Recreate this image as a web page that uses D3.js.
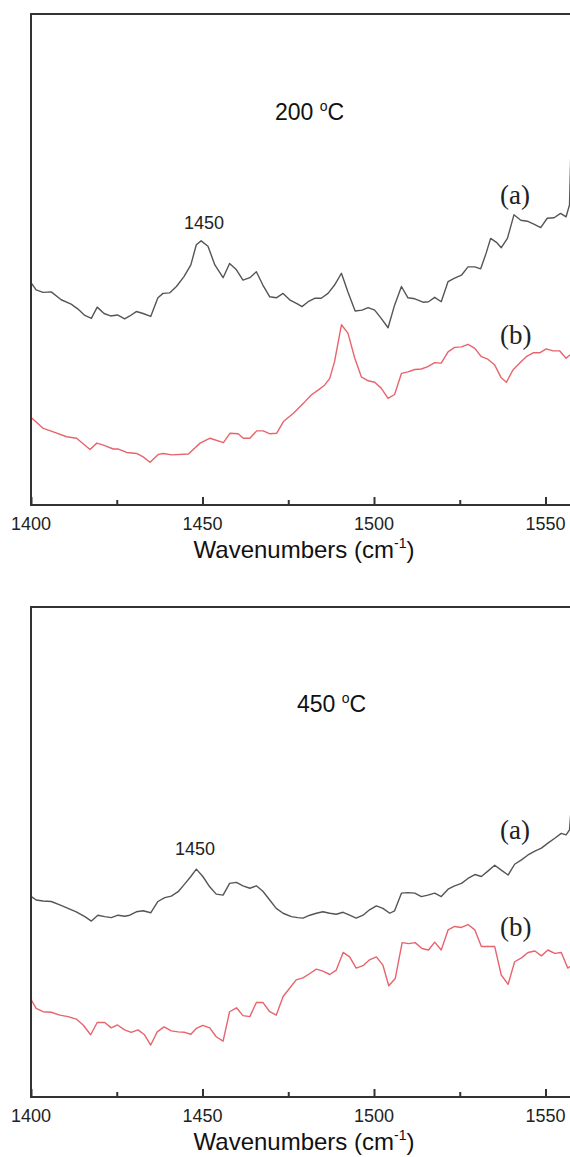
<!doctype html>
<html>
<head>
<meta charset="utf-8" />
<title>IR spectra 200 / 450 C</title>
<script src="https://cdn.jsdelivr.net/npm/d3@7/dist/d3.min.js"></script>
<style>
	html, body { margin: 0; padding: 0; background: #fff; overflow: hidden; }
	svg { display: block; }
	.tick-label { font-family: "Liberation Sans", Arial, sans-serif; font-size: 18px; fill: #222; }
	.axis-title { font-family: "Liberation Sans", Arial, sans-serif; font-size: 24px; fill: #111; }
	.temp { font-family: "Liberation Sans", Arial, sans-serif; font-size: 23px; fill: #111; }
	.peak { font-family: "Liberation Sans", Arial, sans-serif; font-size: 18px; fill: #222; }
	.curve-id { font-family: "Liberation Serif", "Times New Roman", serif; font-size: 27px; fill: #222; }
</style>
</head>
<body>
<div id="app"></div>
<script>
// values, absorbance in arbitrary units (0..100 of the panel height)
const wave200a = [1400.1, 1401.5, 1403.5, 1405.9, 1408.8, 1411.7, 1413.7, 1415.7, 1417.6, 1419.3, 1421.3, 1423.2, 1425.2, 1427.3, 1428.8, 1430.7, 1432.7, 1434.9, 1437.0, 1438.5, 1440.4, 1442.4, 1444.6, 1446.6, 1448.2, 1449.6, 1451.6, 1453.6, 1456.0, 1457.9, 1459.9, 1461.8, 1463.8, 1465.7, 1467.6, 1469.6, 1471.5, 1473.5, 1475.4, 1477.8, 1479.0, 1480.8, 1482.7, 1484.6, 1486.6, 1488.5, 1490.5, 1492.4, 1494.5, 1496.5, 1498.3, 1500.2, 1502.1, 1504.1, 1506.0, 1508.0, 1509.9, 1511.9, 1514.3, 1515.9, 1517.7, 1519.6, 1521.6, 1523.5, 1525.5, 1527.4, 1529.4, 1531.1, 1532.7, 1534.0, 1535.7, 1537.1, 1538.9, 1540.8, 1542.8, 1544.7, 1546.6, 1548.6, 1550.5, 1552.5, 1554.4, 1556.0, 1557.0, 1557.4, 1558.5];
const abs200a = [45.2, 43.8, 43.3, 43.4, 41.8, 40.9, 39.9, 38.6, 38.0, 40.3, 39.0, 38.5, 38.7, 37.9, 38.5, 39.4, 39.0, 38.4, 42.2, 43.1, 43.2, 44.5, 46.5, 48.9, 53.0, 53.8, 52.7, 48.9, 46.3, 49.2, 47.9, 45.8, 46.3, 47.5, 44.8, 42.4, 42.2, 43.1, 41.8, 40.9, 40.4, 41.4, 42.1, 42.1, 43.1, 44.8, 47.2, 43.4, 39.5, 39.7, 40.2, 39.7, 38.0, 36.1, 40.7, 44.5, 42.2, 42.0, 41.3, 41.4, 42.3, 41.4, 45.5, 46.2, 46.8, 48.5, 48.5, 48.1, 51.3, 54.3, 53.5, 52.4, 54.3, 59.1, 58.0, 57.8, 57.2, 56.5, 58.4, 58.5, 59.4, 58.7, 61.1, 72.0, 85.0];

const wave200b = [1400.2, 1403.6, 1406.5, 1410.4, 1413.3, 1417.2, 1419.2, 1421.1, 1424.0, 1425.5, 1427.9, 1430.8, 1432.7, 1434.7, 1437.1, 1438.6, 1441.0, 1445.9, 1449.3, 1452.2, 1456.1, 1458.0, 1460.4, 1461.9, 1463.8, 1465.8, 1467.7, 1469.7, 1471.6, 1473.6, 1476.5, 1479.8, 1481.7, 1483.7, 1485.6, 1487.1, 1488.5, 1490.5, 1492.4, 1494.4, 1496.3, 1498.3, 1500.2, 1502.1, 1504.1, 1506.0, 1508.0, 1509.9, 1511.9, 1513.8, 1515.7, 1517.7, 1519.6, 1521.6, 1523.5, 1525.5, 1527.4, 1529.4, 1531.3, 1533.2, 1535.2, 1537.1, 1538.6, 1540.5, 1542.5, 1544.4, 1546.4, 1548.3, 1550.2, 1552.2, 1554.1, 1556.0, 1557.0, 1559.0];
const abs200b = [17.7, 15.6, 14.9, 13.9, 13.6, 11.3, 12.6, 12.2, 11.4, 11.4, 10.7, 10.5, 9.8, 8.7, 10.3, 10.5, 10.2, 10.4, 12.6, 13.6, 12.7, 14.6, 14.5, 13.6, 13.6, 15.1, 15.1, 14.5, 14.6, 17.0, 18.7, 21.0, 22.4, 23.4, 24.4, 25.8, 29.2, 36.7, 35.0, 29.9, 26.1, 25.3, 25.0, 23.8, 21.7, 22.5, 26.8, 27.1, 27.6, 27.7, 28.2, 29.0, 28.9, 31.2, 32.1, 32.2, 32.7, 31.9, 30.2, 29.7, 28.5, 25.9, 25.0, 27.5, 28.9, 30.2, 31.0, 31.0, 31.8, 31.4, 31.4, 29.9, 30.5, 31.0];

const wave450a = [1400.1, 1401.5, 1403.5, 1405.9, 1408.4, 1410.8, 1413.2, 1415.7, 1417.6, 1419.5, 1421.5, 1423.4, 1425.4, 1427.3, 1428.8, 1430.7, 1432.7, 1434.9, 1437.0, 1439.0, 1440.9, 1442.9, 1444.6, 1446.6, 1448.2, 1450.1, 1452.1, 1454.0, 1456.0, 1457.9, 1459.9, 1461.8, 1463.8, 1465.7, 1467.6, 1469.6, 1471.5, 1473.5, 1475.9, 1477.8, 1479.3, 1481.3, 1483.2, 1485.1, 1487.1, 1489.0, 1491.0, 1492.9, 1494.8, 1496.8, 1498.7, 1500.7, 1502.6, 1504.6, 1506.0, 1508.0, 1509.9, 1511.9, 1513.8, 1515.7, 1517.7, 1519.6, 1521.6, 1523.5, 1525.5, 1527.4, 1529.4, 1531.3, 1533.2, 1535.2, 1537.1, 1539.1, 1541.0, 1543.0, 1544.9, 1546.9, 1548.8, 1550.7, 1552.7, 1554.6, 1556.0, 1557.0, 1557.6, 1559.0];
const abs450a = [40.9, 40.2, 40.0, 39.9, 39.2, 38.5, 37.8, 36.8, 35.9, 37.1, 36.8, 36.6, 37.1, 36.9, 37.1, 37.8, 38.0, 37.6, 39.9, 40.7, 41.0, 41.9, 43.3, 45.0, 46.5, 45.0, 42.9, 41.4, 41.2, 43.6, 43.8, 43.1, 42.6, 43.1, 42.0, 40.2, 38.5, 37.5, 36.8, 36.6, 36.5, 37.1, 37.5, 37.8, 37.5, 37.3, 37.7, 37.1, 36.5, 37.1, 38.2, 39.0, 38.5, 37.5, 38.0, 41.6, 41.7, 41.6, 40.9, 41.2, 41.6, 40.9, 42.4, 43.1, 43.6, 44.6, 45.4, 45.0, 46.1, 47.3, 46.3, 45.3, 47.5, 48.4, 49.4, 50.2, 50.8, 51.8, 52.8, 53.8, 53.5, 54.5, 60.0, 68.0];

const wave450b = [1400.1, 1401.5, 1403.5, 1405.9, 1408.4, 1410.8, 1413.2, 1415.2, 1417.4, 1419.3, 1421.5, 1423.4, 1425.2, 1427.3, 1429.2, 1431.2, 1433.1, 1434.9, 1436.8, 1438.8, 1440.9, 1442.9, 1444.8, 1446.6, 1448.2, 1450.1, 1452.1, 1454.0, 1456.0, 1457.9, 1459.9, 1461.8, 1463.8, 1465.7, 1467.6, 1469.6, 1471.5, 1473.5, 1475.4, 1477.3, 1479.3, 1481.3, 1483.2, 1485.1, 1487.1, 1489.0, 1491.0, 1492.9, 1494.8, 1496.8, 1498.7, 1500.7, 1502.6, 1504.3, 1506.2, 1508.2, 1510.1, 1512.0, 1514.0, 1515.9, 1517.7, 1519.6, 1521.6, 1523.5, 1525.5, 1527.4, 1529.4, 1531.3, 1533.2, 1535.2, 1537.1, 1539.1, 1541.0, 1543.0, 1544.9, 1546.9, 1548.8, 1550.7, 1552.7, 1554.6, 1556.5, 1557.0, 1559.0];
const abs450b = [19.8, 18.1, 17.4, 17.3, 16.7, 16.4, 15.9, 14.7, 12.7, 15.2, 15.2, 14.1, 14.7, 13.7, 13.2, 13.7, 12.7, 10.6, 13.3, 14.3, 13.5, 13.3, 13.2, 12.8, 14.0, 14.6, 14.1, 12.3, 11.4, 17.4, 18.2, 16.6, 16.4, 19.3, 19.3, 17.4, 16.7, 20.5, 22.2, 23.9, 24.3, 25.2, 26.1, 25.7, 25.0, 25.9, 29.5, 28.6, 26.3, 26.8, 28.0, 28.6, 26.9, 22.7, 24.2, 31.5, 31.3, 31.5, 30.3, 30.0, 31.6, 30.0, 34.1, 34.8, 34.6, 35.2, 34.1, 30.7, 30.7, 30.7, 24.9, 23.0, 27.6, 28.4, 29.5, 29.8, 28.8, 30.0, 29.3, 29.5, 26.3, 26.6, 27.0];

const majorTicks = [1400, 1450, 1500, 1550, 1600];
const minorTicks = [1425, 1475, 1525, 1575];
const tickLabels = ['1400', '1450', '1500', '1550'];
const temps = ['200', '450'];
const peakLabel = '1450';

const W = 570, H = 1157;

const panels = [
	{ temp: temps[0], a: [wave200a, abs200a], b: [wave200b, abs200b], top: 14, bottom: 505,
		tempX: 275, tempY: 120, peakX: 204, peakY: 229, aY: 203.5, bY: 344, tickY: 530, titleY: 558 },
	{ temp: temps[1], a: [wave450a, abs450a], b: [wave450b, abs450b], top: 607, bottom: 1097,
		tempX: 297, tempY: 711.5, peakX: 195, peakY: 855, aY: 838.5, bY: 935.5, tickY: 1121.5, titleY: 1150 }
];

const svg = d3.select('#app').append('svg').attr('width', W).attr('height', H);

const x = d3.scaleLinear().domain([1400, 1600]).range([31, 717]);

function toPoints(series) {
	return series[0].map((w, i) => ({ w, v: series[1][i] }));
}

function drawPanel(p) {
	const y = d3.scaleLinear().domain([0, 100]).range([p.bottom, p.top]);
	const g = svg.append('g');

	const line = d3.line().x(d => x(d.w)).y(d => y(d.v));
	g.append('path').datum(toPoints(p.b))
		.attr('d', line).attr('fill', 'none')
		.attr('stroke', '#e7646d').attr('stroke-width', 1.4).attr('stroke-linejoin', 'round');
	g.append('path').datum(toPoints(p.a))
		.attr('d', line).attr('fill', 'none')
		.attr('stroke', '#555').attr('stroke-width', 1.4).attr('stroke-linejoin', 'round');

	// frame
	g.append('rect')
		.attr('x', x(1400)).attr('y', y(100))
		.attr('width', x(1600) - x(1400)).attr('height', y(0) - y(100))
		.attr('fill', 'none').attr('stroke', '#333').attr('stroke-width', 2);

	// inward ticks
	const ax = g.append('g').attr('transform', `translate(0,${y(0)})`)
		.call(d3.axisBottom(x).tickValues(majorTicks).tickSize(-8).tickFormat(''));
	ax.select('.domain').remove();
	ax.selectAll('.tick line').attr('stroke', '#333').attr('stroke-width', 2);
	const axMinor = g.append('g').attr('transform', `translate(0,${y(0)})`)
		.call(d3.axisBottom(x).tickValues(minorTicks).tickSize(-5).tickFormat(''));
	axMinor.select('.domain').remove();
	axMinor.selectAll('.tick line').attr('stroke', '#333').attr('stroke-width', 2);

	g.selectAll('.tick-label').data(tickLabels).join('text')
		.attr('class', 'tick-label')
		.attr('x', d => x(+d)).attr('y', p.tickY)
		.attr('text-anchor', 'middle')
		.text(d => d);

	const title = g.append('text').attr('class', 'axis-title')
		.attr('x', 304).attr('y', p.titleY).attr('text-anchor', 'middle');
	title.append('tspan').text('Wavenumbers (cm');
	title.append('tspan').attr('font-size', 14).attr('dy', -10).text('-1');
	title.append('tspan').attr('dy', 10).text(')');

	const t = g.append('text').attr('class', 'temp').attr('x', p.tempX).attr('y', p.tempY);
	t.append('tspan').text(p.temp + ' ');
	t.append('tspan').attr('font-size', 14).attr('dy', -9).text('o');
	t.append('tspan').attr('dy', 9).text('C');

	g.append('text').attr('class', 'peak')
		.attr('x', p.peakX).attr('y', p.peakY).attr('text-anchor', 'middle')
		.text(peakLabel);

	g.append('text').attr('class', 'curve-id').attr('x', 500).attr('y', p.aY).text('(a)');
	g.append('text').attr('class', 'curve-id').attr('x', 500).attr('y', p.bY).text('(b)');
}

panels.forEach(drawPanel);
</script>
</body>
</html>
